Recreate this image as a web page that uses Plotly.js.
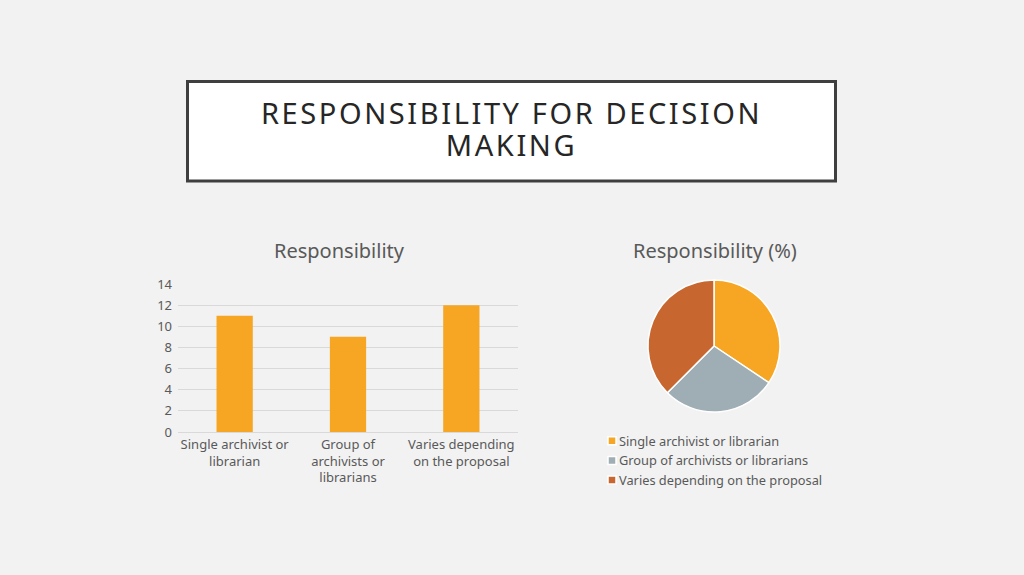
<!DOCTYPE html>
<html>
<head>
<meta charset="utf-8">
<script src="https://cdn.plot.ly/plotly-3.0.1.min.js"></script>
<style>
  html, body { margin: 0; padding: 0; background: #f2f2f2; }
  #chart { width: 1024px; height: 575px; }
</style>
</head>
<body>
<div id="chart"></div>
<script>
// values
const categories = ['Single archivist or<br>librarian', 'Group of<br>archivists or<br>librarians', 'Varies depending<br>on the proposal'];
const legendLabels = ['Single archivist or librarian', 'Group of archivists or librarians', 'Varies depending on the proposal'];
const counts = [11, 9, 12];
const yTicks = [0, 2, 4, 6, 8, 10, 12, 14];
const sliceColors = ['#F6A623', '#9FADB4', '#C8662F'];
const slideTitle = 'RESPONSIBILITY FOR DECISION<br>MAKING';

const W = 1024, H = 575;
const px = x => x / W;
const py = y => 1 - y / H;
const textGrey = '#595959';
const font = '"Noto Sans", "Open Sans", sans-serif';
const titleSize = 29;

let bar = {
    type: 'bar',
    x: categories,
    y: counts,
    marker: { color: sliceColors[0] },
    showlegend: false,
    hoverinfo: 'none'
};

let pie = {
    type: 'pie',
    labels: legendLabels,
    values: counts,
    sort: false,
    direction: 'clockwise',
    rotation: 0,
    textinfo: 'none',
    hoverinfo: 'none',
    marker: { colors: sliceColors, line: { color: '#ffffff', width: 1.5 } },
    domain: { x: [px(648), px(780)], y: [py(412), py(280)] }
};

let layout = {
    width: W,
    height: H,
    margin: { l: 0, r: 0, t: 0, b: 0 },
    paper_bgcolor: '#f2f2f2',
    plot_bgcolor: '#f2f2f2',
    font: { family: font, color: textGrey, size: 13 },
    bargap: 0.68,
    xaxis: {
        domain: [px(178), px(518)],
        anchor: 'y',
        showgrid: false,
        showline: true,
        linecolor: '#d9d9d9',
        linewidth: 1,
        ticks: '',
        tickfont: { size: 13, color: textGrey },
        fixedrange: true
    },
    yaxis: {
        domain: [py(432), py(284)],
        anchor: 'x',
        range: [0, 14],
        tickvals: yTicks,
        showgrid: true,
        gridcolor: '#d9d9d9',
        gridwidth: 1,
        zeroline: false,
        showline: false,
        ticks: '',
        ticklen: 0,
        ticklabelstandoff: 5,
        tickfont: { size: 13, color: textGrey },
        fixedrange: true
    },
    showlegend: true,
    legend: {
        x: px(592),
        y: py(426),
        xanchor: 'left',
        yanchor: 'top',
        bgcolor: 'rgba(0,0,0,0)',
        font: { size: 12.8, color: textGrey },
        tracegroupgap: 0,
        itemwidth: 30
    },
    shapes: [
        {
            type: 'rect', xref: 'paper', yref: 'paper',
            x0: px(187.5), x1: px(835.5), y0: py(181), y1: py(81.5),
            fillcolor: '#ffffff',
            line: { color: '#3f3f3f', width: 3 },
            layer: 'below'
        }
    ],
    annotations: [
        {
            xref: 'paper', yref: 'paper',
            x: px(511), y: py(132),
            xanchor: 'center', yanchor: 'middle',
            text: slideTitle,
            showarrow: false,
            align: 'center',
            font: { family: font, size: titleSize, color: '#262626' }
        },
        {
            xref: 'paper', yref: 'paper',
            x: px(339), y: py(250.5),
            xanchor: 'center', yanchor: 'middle',
            text: 'Responsibility',
            showarrow: false,
            font: { family: font, size: 20, color: textGrey }
        },
        {
            xref: 'paper', yref: 'paper',
            x: px(715), y: py(250.5),
            xanchor: 'center', yanchor: 'middle',
            text: 'Responsibility (%)',
            showarrow: false,
            font: { family: font, size: 20, color: textGrey }
        }
    ]
};

Plotly.newPlot('chart', [bar, pie], layout, { displayModeBar: false, staticPlot: true }).then(gd => {
    // slide title: letter-spaced, lines set closer than plotly's 1.3em
    let t = gd.querySelector('.annotation-text');
    if (t) {
        t.setAttribute('letter-spacing', '2.6px');
        t.querySelectorAll('tspan.line').forEach((el, i) => {
            el.setAttribute('dy', (i * 32 / titleSize) + 'em');
        });
    }
    // tighter legend like the office chart: small squares, text close to them
    gd.querySelectorAll('.legend .legendtext').forEach(el => el.setAttribute('x', 27));
    gd.querySelectorAll('.legend .legendpoints path').forEach(el => {
        el.setAttribute('d', 'M-4,-4h8v8h-8z');
    });
});
</script>
</body>
</html>
